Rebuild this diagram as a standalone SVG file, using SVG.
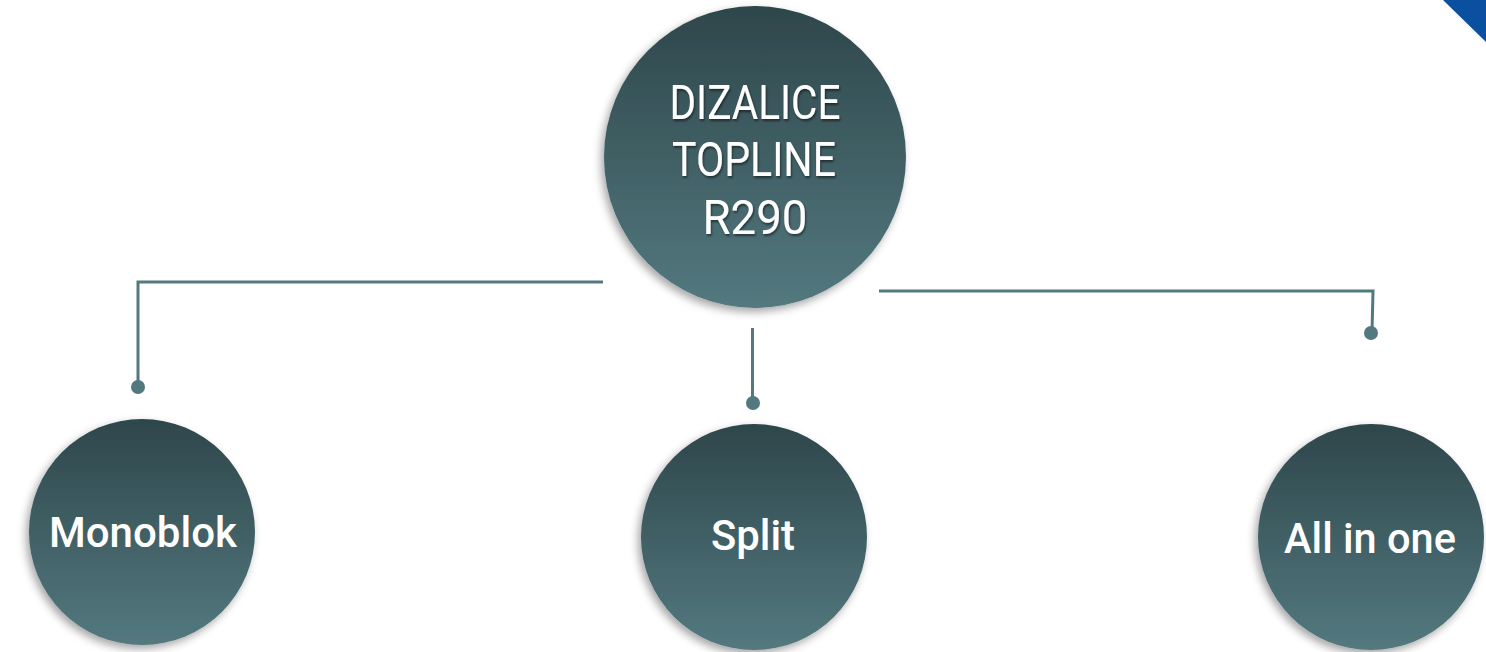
<svg xmlns="http://www.w3.org/2000/svg" width="1486" height="652" viewBox="0 0 1486 652">
<style>
.lbl{font-family:Roboto,"Liberation Sans",sans-serif;fill:#ffffff;text-anchor:middle}
.main{font-size:48px;font-weight:400}
.sub{font-size:43px;font-weight:500}
.conn{stroke:#527880;stroke-width:3;fill:none}
.dot{fill:#527880}
</style>
<defs>
<linearGradient id="g" x1="0" y1="0" x2="0" y2="1">
<stop offset="0" stop-color="#2e464b"/>
<stop offset="1" stop-color="#53797f"/>
</linearGradient>
<filter id="sh" x="-20%" y="-20%" width="140%" height="140%">
<feDropShadow dx="-3" dy="4" stdDeviation="4" flood-color="#000" flood-opacity="0.35"/>
</filter>
<filter id="ts" x="-10%" y="-20%" width="120%" height="140%">
<feDropShadow dx="1" dy="2" stdDeviation="1" flood-color="#000" flood-opacity="0.5"/>
</filter>
</defs>
<rect width="1486" height="652" fill="#ffffff"/>
<polygon points="1443,0 1486,0 1486,42" fill="#0a4fa0"/>
<g id="connectors">
<polyline class="conn" points="603,282 138,282 138,387"/>
<line class="conn" x1="752.5" y1="328" x2="752.5" y2="403"/>
<polyline class="conn" points="879,291 1373,291 1372,333"/>
<circle class="dot" cx="138" cy="387" r="7"/>
<circle class="dot" cx="753" cy="403" r="7"/>
<circle class="dot" cx="1371" cy="333" r="7"/>
</g>
<g id="main">
<circle cx="755" cy="157" r="151" fill="url(#g)" filter="url(#sh)"/>
<g filter="url(#ts)">
<text class="lbl main" x="755" y="119" textLength="171" lengthAdjust="spacingAndGlyphs">DIZALICE</text>
<text class="lbl main" x="754" y="176" textLength="164" lengthAdjust="spacingAndGlyphs">TOPLINE</text>
<text class="lbl main" x="755" y="234" textLength="105" lengthAdjust="spacingAndGlyphs">R290</text>
</g>
</g>
<g id="monoblok">
<circle cx="142" cy="532" r="113" fill="url(#g)" filter="url(#sh)"/>
<text class="lbl sub" x="143" y="547" textLength="188" lengthAdjust="spacingAndGlyphs">Monoblok</text>
</g>
<g id="split">
<circle cx="754" cy="537" r="113" fill="url(#g)" filter="url(#sh)"/>
<text class="lbl sub" x="753" y="550" textLength="84" lengthAdjust="spacingAndGlyphs">Split</text>
</g>
<g id="allinone">
<circle cx="1371" cy="537" r="113" fill="url(#g)" filter="url(#sh)"/>
<text class="lbl sub" x="1370" y="553" textLength="172" lengthAdjust="spacingAndGlyphs">All in one</text>
</g>
</svg>
